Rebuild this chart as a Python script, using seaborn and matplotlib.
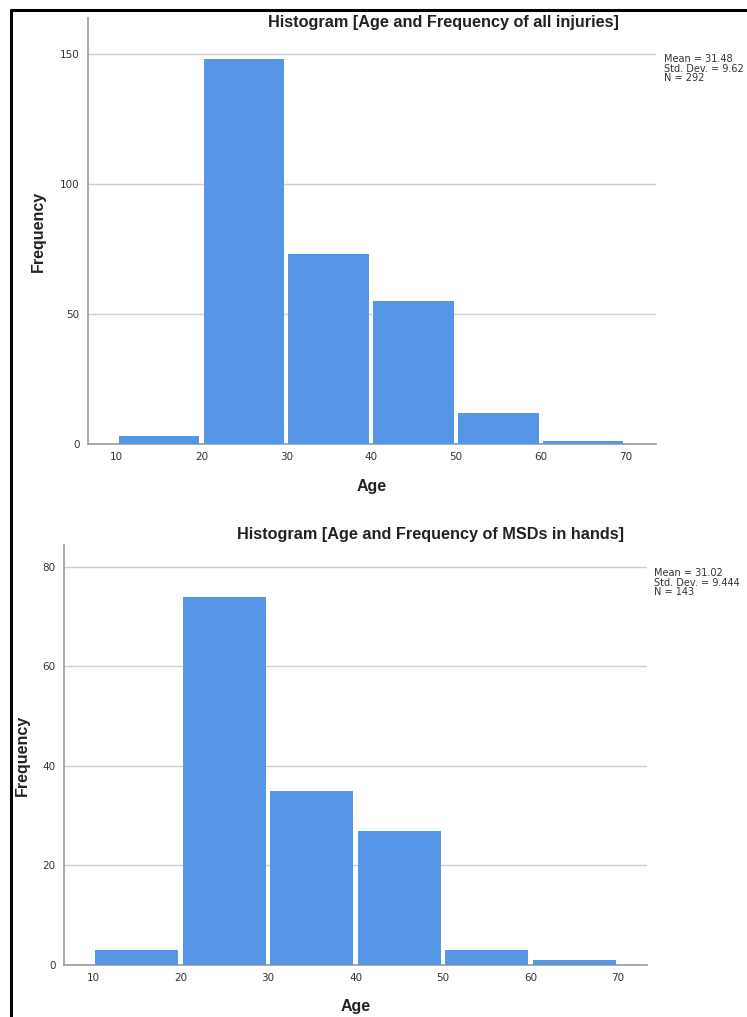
import matplotlib
matplotlib.use("Agg")
import matplotlib.pyplot as plt
import seaborn as sns
from matplotlib.lines import Line2D

# histogram bins (age) and counts
bin_edges = [10, 20, 30, 40, 50, 60, 70]
bin_mids = [15, 25, 35, 45, 55, 65]
all_injuries = [3, 148, 73, 55, 12, 1]
msd_hands = [3, 74, 35, 27, 3, 1]

titles = ["Histogram [Age and Frequency of all injuries]",
          "Histogram [Age and Frequency of MSDs in hands]"]
stats = ["Mean = 31.48\nStd. Dev. = 9.62\nN = 292",
         "Mean = 31.02\nStd. Dev. = 9.444\nN = 143"]
yticks = [[0, 50, 100, 150], [0, 20, 40, 60, 80]]
xticks = [10, 20, 30, 40, 50, 60, 70]

sns.set_style("white")
plt.rcParams['font.family'] = ['Liberation Sans', 'DejaVu Sans']

BAR = "#5596e6"
W, H = 747, 1017


def px_axes(fig, left, top, right, bottom):
    return fig.add_axes([left / W, 1 - bottom / H, (right - left) / W, (bottom - top) / H])


fig = plt.figure(figsize=(W / 100, H / 100), dpi=100)

# outer frame (top and left edges visible)
fig.add_artist(Line2D([11 / W, 1], [1 - 10 / H, 1 - 10 / H], color="black", lw=2.2))
fig.add_artist(Line2D([11 / W, 11 / W], [0, 1 - 10 / H], color="black", lw=2.2))

layout = [
    dict(box=(88, 18, 656, 444), xlim=(6.6, 73.6), ylim=(0, 163.8),
         title_y=22, title_x=443, ylab_x=38, xlab_y=486, stat=(664, 54)),
    dict(box=(64, 545, 647, 965), xlim=(6.7, 73.3), ylim=(0, 84.4),
         title_y=535, title_x=431, ylab_x=22, xlab_y=1006, stat=(654, 568)),
]

for i, counts in enumerate([all_injuries, msd_hands]):
    L = layout[i]
    ax = px_axes(fig, *L["box"])
    sns.histplot(x=bin_mids, weights=counts, bins=bin_edges, ax=ax, shrink=0.95,
                 color=BAR, alpha=1, edgecolor="none", linewidth=0, zorder=3)
    ax.set_xlim(*L["xlim"])
    ax.set_ylim(*L["ylim"])
    ax.set_xticks(xticks)
    ax.set_yticks(yticks[i])
    ax.tick_params(axis="both", length=0, labelsize=7.5, colors="#333333", pad=6)
    for lab in ax.get_xticklabels() + ax.get_yticklabels():
        lab.set_family("DejaVu Sans")
    ax.grid(axis="y", color="#cfcfcf", lw=1, zorder=0)
    ax.set_axisbelow(True)
    for s in ["top", "right"]:
        ax.spines[s].set_visible(False)
    for s in ["left", "bottom"]:
        ax.spines[s].set_color("#999999")
        ax.spines[s].set_linewidth(1.2)
    ax.set_xlabel("")
    ax.set_ylabel("")

    fig.text(L["title_x"] / W, 1 - L["title_y"] / H, titles[i], ha="center", va="center",
             fontsize=11.7, fontweight="bold", color="#222222")
    fig.text(L["ylab_x"] / W, 1 - ((L["box"][1] + L["box"][3]) / 2) / H, "Frequency",
             rotation=90, ha="center", va="center", fontsize=11.5, fontweight="bold", color="#222222")
    fig.text(((L["box"][0] + L["box"][2]) / 2) / W, 1 - L["xlab_y"] / H, "Age",
             ha="center", va="center", fontsize=11.5, fontweight="bold", color="#222222")
    fig.text(L["stat"][0] / W, 1 - L["stat"][1] / H, stats[i], ha="left", va="top",
             fontsize=7, color="#333333", linespacing=0.95, family="DejaVu Sans")

fig.savefig("out.png", dpi=100, facecolor="white")
